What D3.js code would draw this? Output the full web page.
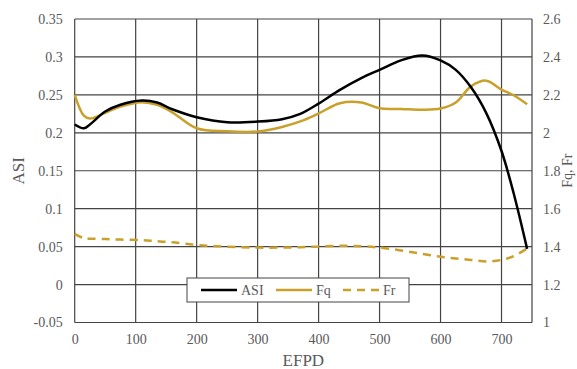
<!DOCTYPE html>
<html>
<head>
<meta charset="utf-8">
<script src="https://cdn.jsdelivr.net/npm/d3@7"></script>
<style>
  html, body { margin: 0; padding: 0; background: #fff; }
  svg text { font-family: "Liberation Serif", "Times New Roman", Times, "DejaVu Serif", serif; fill: #595959; }
</style>
</head>
<body>
<div class="canvas"></div>
<script>
// values
const efpd = [0, 15, 25, 50, 75, 110, 135, 160, 200, 250, 300, 340, 370, 400, 435, 470, 500, 535, 570, 600, 625, 650, 675, 700, 720, 742];
const asi = [0.211, 0.206, 0.211, 0.228, 0.237, 0.2425, 0.240, 0.231, 0.2206, 0.214, 0.2148, 0.218, 0.225, 0.2385, 0.2565, 0.272, 0.283, 0.2955, 0.302, 0.2955, 0.283, 0.260, 0.226, 0.176, 0.12, 0.047];
const fq = [2.20, 2.09, 2.075, 2.105, 2.138, 2.161, 2.147, 2.108, 2.024, 2.008, 2.007, 2.031, 2.06, 2.102, 2.156, 2.16, 2.129, 2.126, 2.122, 2.128, 2.16, 2.245, 2.275, 2.228, 2.198, 2.15];
const fr = [1.467, 1.444, 1.442, 1.44, 1.437, 1.434, 1.428, 1.423, 1.409, 1.40, 1.395, 1.395, 1.397, 1.40, 1.404, 1.402, 1.395, 1.38, 1.362, 1.347, 1.337, 1.33, 1.322, 1.33, 1.35, 1.39];

const xTicks = [0, 100, 200, 300, 400, 500, 600, 700];
const asiTicks = [-0.05, 0, 0.05, 0.1, 0.15, 0.2, 0.25, 0.3, 0.35];
const fTicks = [1, 1.2, 1.4, 1.6, 1.8, 2, 2.2, 2.4, 2.6];

const w = 577;
const h = 369;
const margin = { top: 19, right: 45, bottom: 46.5, left: 74.7 };
const graphWidth = w - margin.left - margin.right;
const graphHeight = h - margin.top - margin.bottom;

const serif = '"Liberation Serif", "Times New Roman", Times, "DejaVu Serif", serif';
const gold = "#c9a02a";
const gridColor = "#444";

const svg = d3.select(".canvas")
  .append("svg")
  .attr("width", w)
  .attr("height", h)
  .style("font-family", serif);

const graph = svg.append("g")
  .attr("transform", `translate(${margin.left}, ${margin.top})`);

// scales
const x = d3.scaleLinear().domain([0, 750]).range([0, graphWidth]);
const y = d3.scaleLinear().domain([-0.05, 0.35]).range([graphHeight, 0]);
const y2 = d3.scaleLinear().domain([1, 2.6]).range([graphHeight, 0]);

// grid
graph.append("g")
  .selectAll("line")
  .data(asiTicks)
  .enter()
  .append("line")
  .attr("x1", 0)
  .attr("x2", graphWidth)
  .attr("y1", d => y(d))
  .attr("y2", d => y(d))
  .attr("stroke", gridColor)
  .attr("stroke-width", 1.2);

graph.append("g")
  .selectAll("line")
  .data(xTicks.concat([750]))
  .enter()
  .append("line")
  .attr("x1", d => x(d))
  .attr("x2", d => x(d))
  .attr("y1", 0)
  .attr("y2", graphHeight)
  .attr("stroke", gridColor)
  .attr("stroke-width", 1.2);

// axes (labels only, lines come from the grid)
const xAxis = d3.axisBottom(x).tickValues(xTicks).tickSize(0).tickPadding(12).tickFormat(d3.format("d"));
const yAxis = d3.axisLeft(y).tickValues(asiTicks).tickSize(0).tickPadding(12).tickFormat(d => String(+d.toFixed(2)));
const y2Axis = d3.axisRight(y2).tickValues(fTicks).tickSize(0).tickPadding(11).tickFormat(d => String(+d.toFixed(1)));

const xAxisGroup = graph.append("g").attr("transform", `translate(0, ${graphHeight})`).call(xAxis);
const yAxisGroup = graph.append("g").call(yAxis);
const y2AxisGroup = graph.append("g").attr("transform", `translate(${graphWidth}, 0)`).call(y2Axis);

[xAxisGroup, yAxisGroup, y2AxisGroup].forEach(g => {
  g.attr("font-family", serif).attr("font-size", 14);
  g.select(".domain").remove();
  g.selectAll("text")
    .style("font-family", serif)
    .style("font-size", "14px")
    .attr("fill", "#595959");
});

// lines
const lineAsi = d3.line()
  .x((d, i) => x(efpd[i]))
  .y(d => y(d))
  .curve(d3.curveCatmullRom.alpha(0.5));

const lineF = d3.line()
  .x((d, i) => x(efpd[i]))
  .y(d => y2(d))
  .curve(d3.curveCatmullRom.alpha(0.5));

graph.append("path")
  .attr("d", lineF(fr))
  .attr("fill", "none")
  .attr("stroke", gold)
  .attr("stroke-width", 2.5)
  .attr("stroke-dasharray", "8,6");

graph.append("path")
  .attr("d", lineF(fq))
  .attr("fill", "none")
  .attr("stroke", gold)
  .attr("stroke-width", 2.5);

graph.append("path")
  .attr("d", lineAsi(asi))
  .attr("fill", "none")
  .attr("stroke", "#000")
  .attr("stroke-width", 2.5);

// axis titles
svg.append("text")
  .attr("transform", `translate(24, ${margin.top + graphHeight / 2}) rotate(-90)`)
  .attr("text-anchor", "middle")
  .style("font-size", "17px")
  .text("ASI");

svg.append("text")
  .attr("x", margin.left + graphWidth / 2)
  .attr("y", 366)
  .attr("text-anchor", "middle")
  .style("font-size", "17px")
  .text("EFPD");

svg.append("text")
  .attr("transform", `translate(572, ${margin.top + graphHeight / 2}) rotate(-90)`)
  .attr("text-anchor", "middle")
  .style("font-size", "14px")
  .text("Fq, Fr");

// legend
const legendItems = [
  { name: "ASI", color: "#000", dash: null },
  { name: "Fq", color: gold, dash: null },
  { name: "Fr", color: gold, dash: "8,6" }
];

const legend = svg.append("g").attr("transform", "translate(187, 278)");
legend.append("rect")
  .attr("width", 222)
  .attr("height", 24)
  .attr("fill", "#fff")
  .attr("stroke", gridColor)
  .attr("stroke-width", 1);

const itemOffsets = [14, 89, 156];
legendItems.forEach((item, i) => {
  const g = legend.append("g").attr("transform", `translate(${itemOffsets[i]}, 12)`);
  g.append("line")
    .attr("x1", 0)
    .attr("x2", 36)
    .attr("stroke", item.color)
    .attr("stroke-width", 2.5)
    .attr("stroke-dasharray", item.dash);
  g.append("text")
    .attr("x", 40)
    .attr("y", 5)
    .style("font-size", "14px")
    .text(item.name);
});
</script>
</body>
</html>
